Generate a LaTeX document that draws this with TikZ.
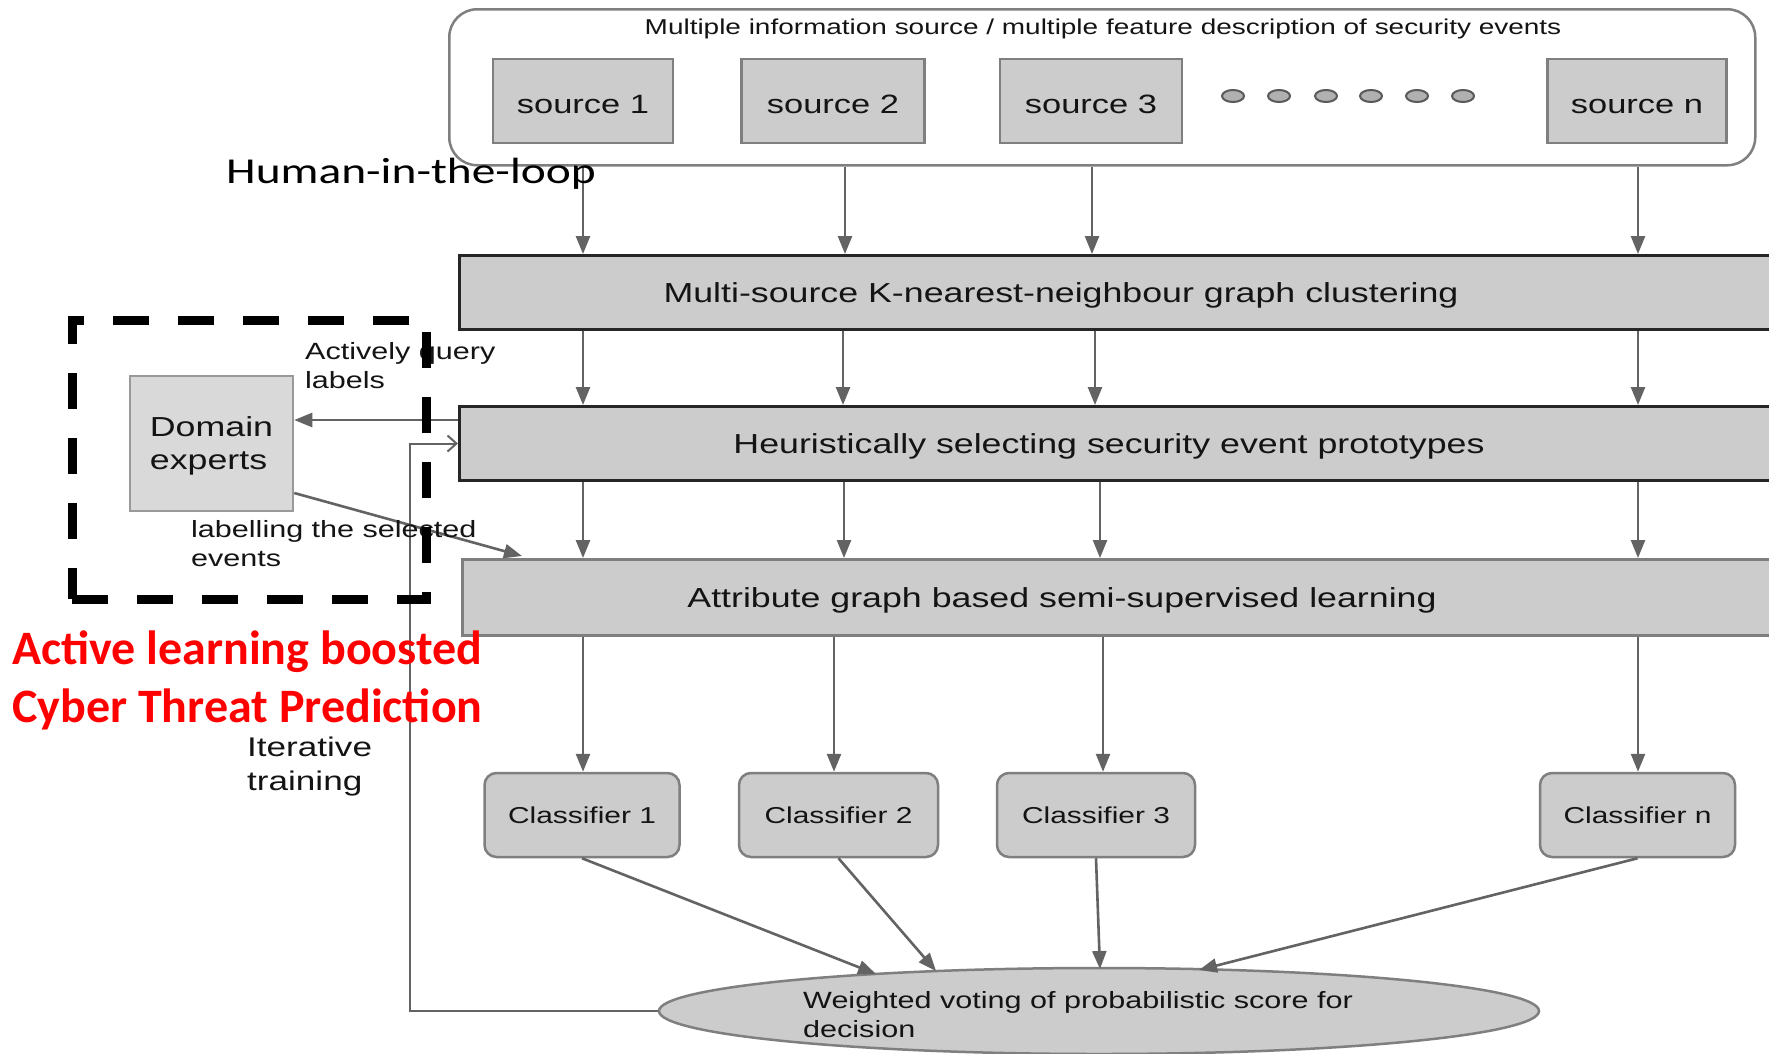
\documentclass[tikz,border=0pt]{standalone}
\usepackage{fontspec}
\usetikzlibrary{arrows.meta,shapes.geometric,calc}
\newfontfamily\gd[FakeStretch=1.3]{Liberation Sans}
\newfontfamily\hl[FakeStretch=1.3]{Carlito}
\newfontfamily\rd{Carlito}
\definecolor{boxfill}{HTML}{CCCCCC}
\definecolor{boxline}{HTML}{7F7F7F}
\definecolor{arrowc}{HTML}{636363}
\definecolor{domfill}{HTML}{D9D9D9}
\definecolor{dotfill}{HTML}{B0B0B0}
\definecolor{redtxt}{HTML}{FF0000}
\definecolor{txt}{HTML}{141414}
\newcommand{\fsz}[2]{\fontsize{#1}{#2}\selectfont}
\begin{document}
\begin{tikzpicture}[x=1pt,y=-1pt,
  srcnode/.style={draw=boxline, fill=boxfill, line width=2.5pt, minimum width=180pt, minimum height=84pt, inner sep=0pt, text height=24pt, text depth=0pt, font=\gd\fsz{26.5}{32}, text=txt},
  bar/.style={fill=boxfill, line width=3pt, minimum width=1332pt, minimum height=74pt, anchor=north west, inner sep=0pt},
  bartext/.style={font=\gd\fsz{27.5}{33}, text=txt, inner sep=0pt},
  cls/.style={draw=boxline, fill=boxfill, line width=2.5pt, rounded corners=12pt, minimum width=195pt, minimum height=84pt, inner sep=0pt, font=\gd\fsz{23}{28}, text=txt},
  dotn/.style={ellipse, draw=black!65, fill=dotfill, line width=2pt, minimum width=22pt, minimum height=12pt, inner sep=0pt},
  arr/.style={draw=arrowc, line width=2.6pt, -{Triangle[length=18pt,width=14pt]}},
  fb/.style={draw=arrowc, line width=2pt, -{Straight Barb[length=9pt,width=16pt,line width=2pt]}},
  lbl/.style={font=\gd\fsz{23.5}{29}, text=txt, align=left, inner sep=0pt, anchor=west},
]
\useasboundingbox (0,0) rectangle (1769,1053);
\clip (0,0) rectangle (1769,1053);
\fill[white] (0,0) rectangle (1769,1053);

% top group
\node[draw=boxline, line width=2.5pt, rounded corners=28pt, fill=white, minimum width=1306pt, minimum height=156pt, anchor=north west, inner sep=0pt] (srcbox) at (448,8) {};
\node[font=\gd\fsz{21.5}{26}, text=txt, inner sep=0pt] (title) at (1103,29) {Multiple information source / multiple feature description of security events};
\node[srcnode] (s1) at (583,101) {source 1};
\node[srcnode, minimum width=183pt] (s2) at (833,101) {source 2};
\node[srcnode, minimum width=182pt] (s3) at (1091,101) {source 3};
\node[srcnode, minimum width=179pt] (sn) at (1637,101) {source n};
\foreach \i/\x in {1/1233,2/1279,3/1326,4/1371,5/1417,6/1463}
  \node[dotn] (d\i) at (\x,96) {};

% bars
\node[bar, draw=black!85] (knn) at (458,254) {};
\node[bartext] (knnt) at (1061,295) {Multi-source K-nearest-neighbour graph clustering};
\node[bar, draw=black!85] (heur) at (458,405) {};
\node[bartext] (heurt) at (1109,446) {Heuristically selecting security event prototypes};
\node[bar, draw=boxline, minimum width=1330pt, minimum height=76pt] (attr) at (461,558) {};
\node[bartext] (attrt) at (1062,600) {Attribute graph based semi-supervised learning};

% classifiers
\node[cls] (c1) at (582,815) {Classifier 1};
\node[cls, minimum width=199pt] (c2) at (838.5,815) {Classifier 2};
\node[cls, minimum width=198pt] (c3) at (1096,815) {Classifier 3};
\node[cls] (cn) at (1637.5,815) {Classifier n};

% voting
\node[ellipse, draw=boxline, fill=boxfill, line width=2.5pt, minimum width=880pt, minimum height=86pt, inner sep=0pt] (vote) at (1099,1011) {};
\node[lbl] (votet) at (803,1015) {Weighted voting of probabilistic score for\\decision};

% domain experts
\node[draw=black!40, fill=domfill, line width=2.5pt, minimum width=163pt, minimum height=135pt, inner sep=0pt, align=left, font=\gd\fsz{27.5}{33}, text=txt] (dom) at (211.5,443.5) {\rule{0pt}{25pt}Domain\\experts};

% column coordinates
\coordinate (xA) at (583,0);
\coordinate (xB1) at (845,0);
\coordinate (xB2) at (843,0);
\coordinate (xB3) at (844,0);
\coordinate (xB4) at (834,0);
\coordinate (xC1) at (1092,0);
\coordinate (xC2) at (1095,0);
\coordinate (xC3) at (1100,0);
\coordinate (xC4) at (1103,0);
\coordinate (xD) at (1638,0);

% arrows row 1
\draw[arr] (xA |- srcbox.south) -- (xA |- knn.north);
\draw[arr] (xB1 |- srcbox.south) -- (xB1 |- knn.north);
\draw[arr] (xC1 |- srcbox.south) -- (xC1 |- knn.north);
\draw[arr] (xD |- srcbox.south) -- (xD |- knn.north);
% row 2
\draw[arr] (xA |- knn.south) -- (xA |- heur.north);
\draw[arr] (xB2 |- knn.south) -- (xB2 |- heur.north);
\draw[arr] (xC2 |- knn.south) -- (xC2 |- heur.north);
\draw[arr] (xD |- knn.south) -- (xD |- heur.north);
% row 3
\draw[arr] (xA |- heur.south) -- (xA |- attr.north);
\draw[arr] (xB3 |- heur.south) -- (xB3 |- attr.north);
\draw[arr] (xC3 |- heur.south) -- (xC3 |- attr.north);
\draw[arr] (xD |- heur.south) -- (xD |- attr.north);
% row 4
\draw[arr] (xA |- attr.south) -- (xA |- c1.north);
\draw[arr] (xB4 |- attr.south) -- (xB4 |- c2.north);
\draw[arr] (xC4 |- attr.south) -- (xC4 |- c3.north);
\draw[arr] (xD |- attr.south) -- (xD |- cn.north);
% to voting
\coordinate (t1) at (876,974);
\coordinate (t2) at (936,971);
\coordinate (t3) at (1100,969);
\coordinate (t4) at (1199,970);
\draw[arr] (c1.south) -- (t1);
\draw[arr] (c2.south) -- (t2);
\draw[arr] (c3.south) -- (t3);
\draw[arr] (cn.south) -- (t4);

% feedback loop
\coordinate (fbx) at (410,0);
\draw[fb] (vote.west) -- (vote.west -| fbx) -- (fbx |- heur.west) -- (heur.west);

% query / labelling
\coordinate (qy) at (0,420);
\draw[arr] (heur.west |- qy) -- (dom.east |- qy);
\coordinate (ly) at (0,493);
\coordinate (lt) at (522,556);
\draw[arr] (dom.east |- ly) -- (lt);

% labels
\node[lbl] (aq) at (305,366) {Actively query\\labels};
\node[lbl] (ls) at (191,544) {labelling the selected\\events};
\node[lbl, font=\gd\fsz{27}{34}] (it) at (247,767) {Iterative\\training};
\node[font=\hl\fsz{36.5}{44}, anchor=west, inner sep=0pt, text=black] (hum) at (226,174) {Human-in-the-loop};
\node[font=\rd\bfseries\fsz{48}{58}, text=redtxt, anchor=west, align=left, inner sep=0pt] (red) at (12,680) {Active learning boosted\\Cyber Threat Prediction};

% dashed frame
\node[draw=black, line width=9pt, dash pattern=on 36pt off 29pt, minimum width=354pt, minimum height=279pt, inner sep=0pt] (hitl) at (249,459.5) {};
\end{tikzpicture}
\end{document}
